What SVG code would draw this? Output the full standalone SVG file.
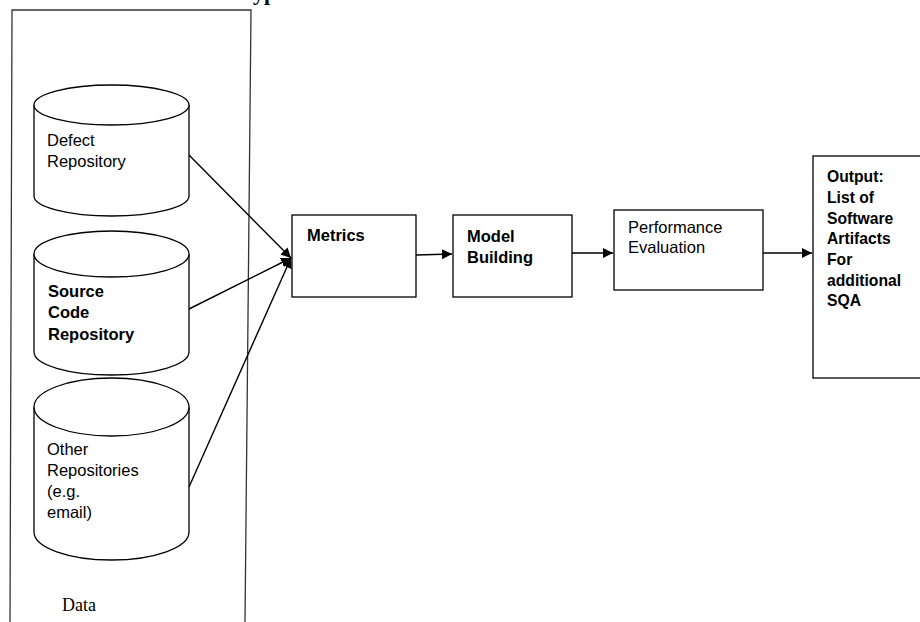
<svg xmlns="http://www.w3.org/2000/svg" width="920" height="622" viewBox="0 0 920 622">
<defs>
<style>
.box{fill:#fff;stroke:#000;stroke-width:1.3}
.cyl{fill:#fff;stroke:#000;stroke-width:1.3}
.t{font-family:"Liberation Sans",Arial,sans-serif;font-size:16.5px;fill:#000}
.b{font-weight:bold}
.o{font-size:15.7px}
.s{font-family:"Liberation Serif","Times New Roman",serif;font-size:18px;fill:#000}
.c{fill:none;stroke:#000;stroke-width:1.4}
</style>
<marker id="ah" viewBox="0 0 10 10" refX="10" refY="5" markerWidth="10" markerHeight="10" markerUnits="userSpaceOnUse" orient="auto">
<path d="M0,0 L10,5 L0,10 z" fill="#000"/>
</marker>
</defs>
<rect width="920" height="622" fill="#fff"/>
<text x="253" y="0" font-family="'Liberation Serif',serif" font-size="22" font-weight="bold" fill="#000">yp</text>
<g id="data">
<path d="M10,622 L12,10 L251,10 L245,622" fill="none" stroke="#333" stroke-width="1.3"/>
<text class="s" x="62" y="611">Data</text>
</g>
<g id="defect">
<path class="cyl" d="M34,105 L34,196 A77.5,20 0 0 0 189,196 L189,105"/>
<ellipse class="cyl" cx="111.5" cy="105" rx="77.5" ry="20"/>
<text class="t" x="47" y="146">Defect</text>
<text class="t" x="47" y="167">Repository</text>
</g>
<g id="source">
<path class="cyl" d="M34,254 L34,352 A77.5,23 0 0 0 189,352 L189,254"/>
<ellipse class="cyl" cx="111.5" cy="254" rx="77.5" ry="23"/>
<text class="t b" x="48" y="297" font-size="17.5">Source</text>
<text class="t b" x="48" y="318" font-size="17.5">Code</text>
<text class="t b" x="48" y="340" font-size="17.5">Repository</text>
</g>
<g id="other">
<path class="cyl" d="M34,407 L34,532 A77.5,28 0 0 0 189,532 L189,407"/>
<ellipse class="cyl" cx="111.5" cy="407" rx="77.5" ry="29"/>
<text class="t" x="47" y="455">Other</text>
<text class="t" x="47" y="476">Repositories</text>
<text class="t" x="47" y="497">(e.g.</text>
<text class="t" x="47" y="518">email)</text>
</g>
<g id="metrics">
<rect class="box" x="292" y="215" width="124" height="82"/>
<text class="t b" x="307" y="241" font-size="15.5">Metrics</text>
</g>
<g id="model">
<rect class="box" x="453" y="215" width="119" height="82"/>
<text class="t b" x="467" y="242" font-size="17.5">Model</text>
<text class="t b" x="467" y="263" font-size="17.5">Building</text>
</g>
<g id="performance">
<rect class="box" x="614" y="210" width="149" height="80"/>
<text class="t" x="628" y="233">Performance</text>
<text class="t" x="628" y="253">Evaluation</text>
</g>
<g id="output">
<rect class="box" x="813" y="156" width="120" height="222"/>
<text class="t b o" x="827" y="182">Output:</text>
<text class="t b o" x="827" y="203">List of</text>
<text class="t b o" x="827" y="224">Software</text>
<text class="t b o" x="827" y="244">Artifacts</text>
<text class="t b o" x="827" y="265">For</text>
<text class="t b o" x="827" y="286">additional</text>
<text class="t b o" x="827" y="306">SQA</text>
</g>
<g id="connectors">
<line class="c" x1="189" y1="155" x2="291" y2="258" marker-end="url(#ah)"/>
<line class="c" x1="189" y1="309" x2="291" y2="258" marker-end="url(#ah)"/>
<line class="c" x1="189" y1="487" x2="291" y2="258" marker-end="url(#ah)"/>
<line class="c" x1="416" y1="255" x2="452" y2="254" marker-end="url(#ah)"/>
<line class="c" x1="572" y1="253" x2="613" y2="253" marker-end="url(#ah)"/>
<line class="c" x1="763" y1="253" x2="812" y2="253" marker-end="url(#ah)"/>
</g>
</svg>
